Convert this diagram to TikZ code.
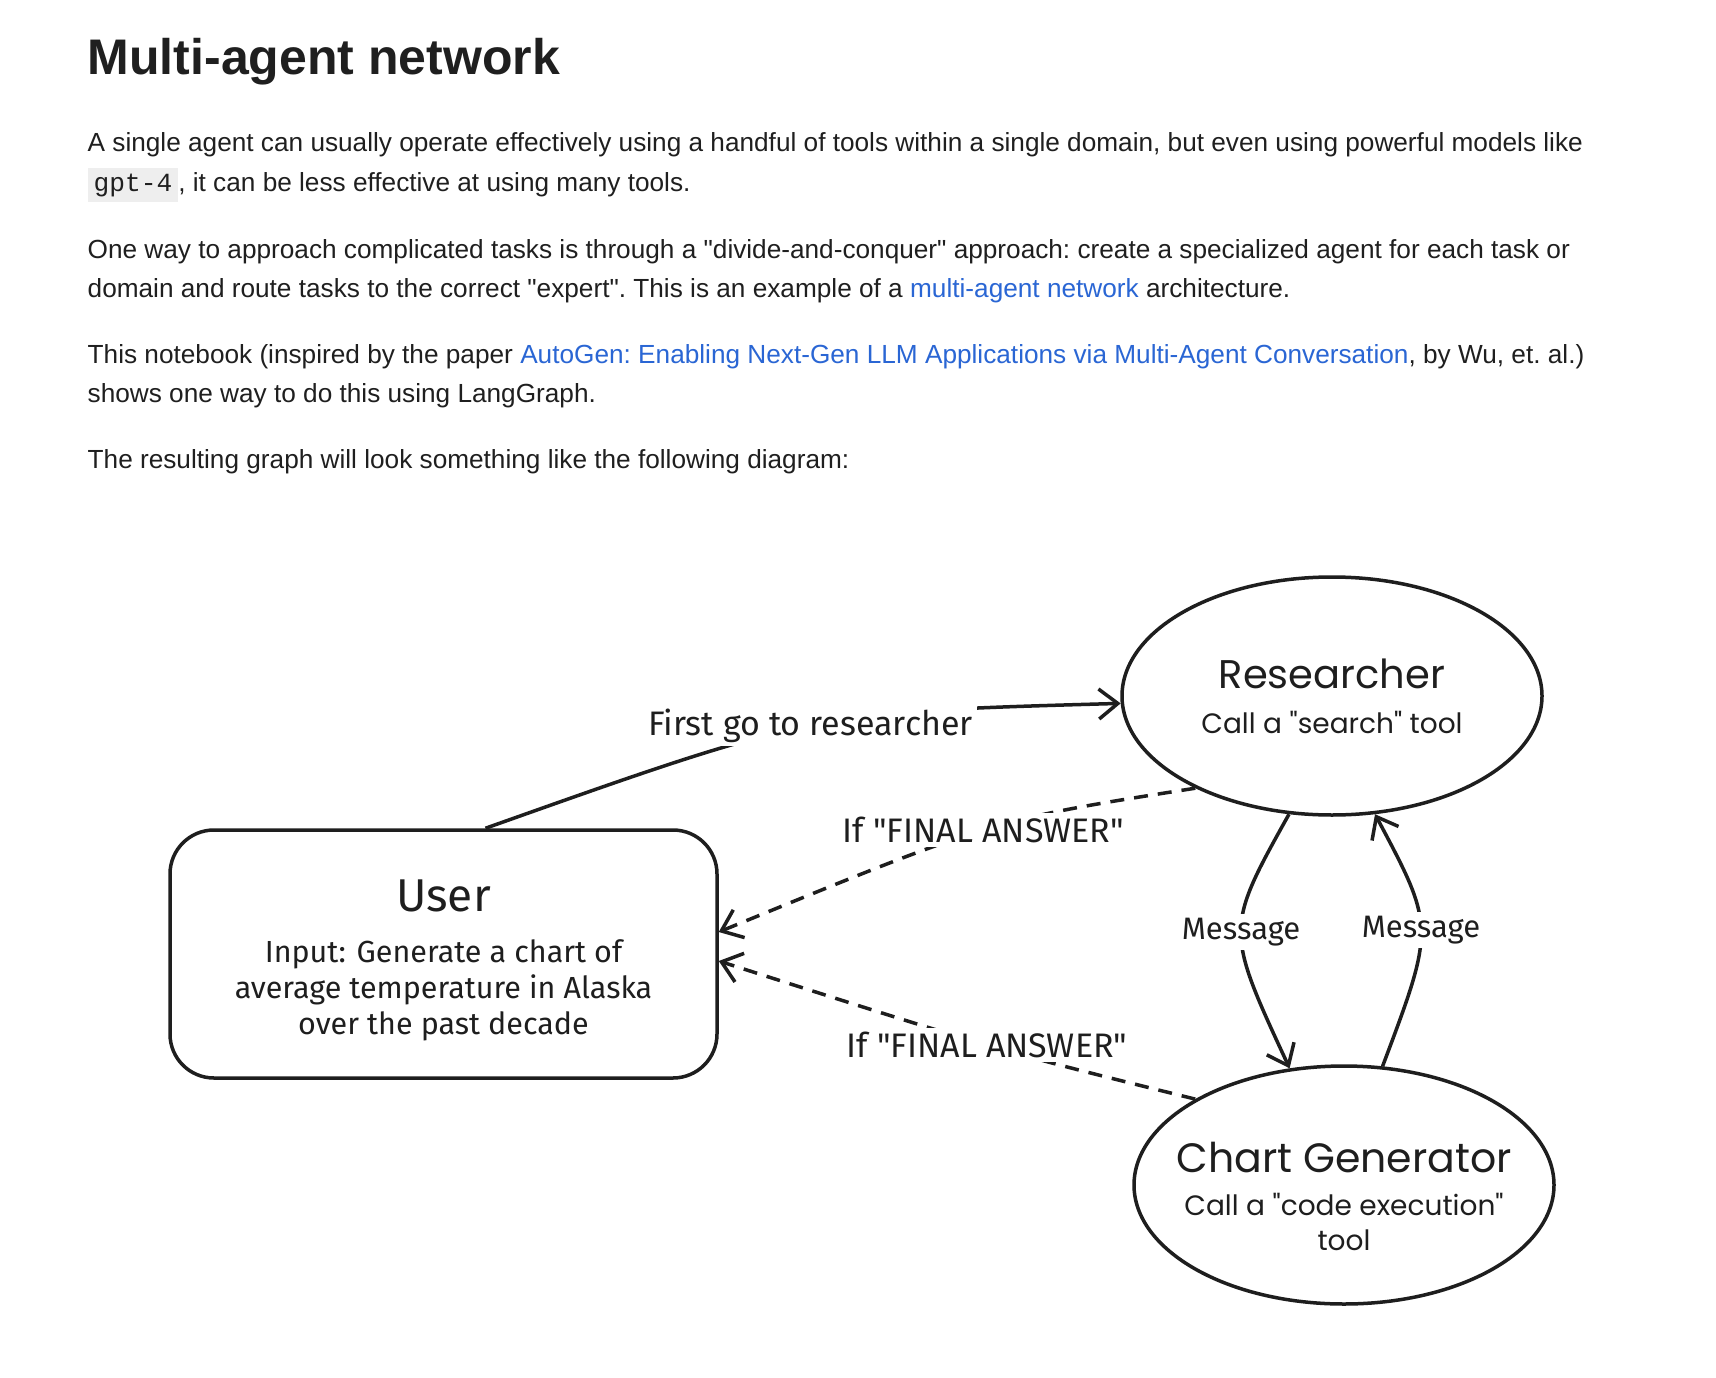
\documentclass[tikz,border=0pt]{standalone}
\usepackage{fontspec}
\setmainfont{Liberation Sans}[Ligatures=TeXOff]
\newfontfamily\codefont{Liberation Mono}
\newfontfamily\sketchfont{Fira Sans}
\newfontfamily\agentfont{Poppins}
\usetikzlibrary{shapes.geometric,arrows.meta}
\definecolor{textgray}{HTML}{1F1F1F}
\definecolor{linkblue}{HTML}{2A66D4}
\definecolor{codebg}{HTML}{EEEEEE}
\definecolor{ink}{HTML}{1E1E1E}

\begin{document}
\begin{tikzpicture}[
    x=1pt, y=-1pt,
    para/.style={anchor=base west, inner sep=0pt, text=textgray, font=\frenchspacing\fontsize{26.2}{30}\selectfont},
    agent/.style={ellipse, draw=ink, line width=3.5pt, minimum width=420pt, minimum height=238pt, inner xsep=-80pt, inner ysep=0pt, align=center, text=ink, font=\agentfont\fontsize{28}{35}\selectfont},
    userbox/.style={rectangle, draw=ink, line width=3.5pt, rounded corners=44pt, minimum width=547pt, minimum height=248pt, align=center, text=ink, font=\sketchfont\fontsize{30.5}{36}\selectfont},
    edgelabel/.style={fill=white, inner sep=4pt, text=ink, font=\sketchfont\fontsize{34}{36}\selectfont},
    arrow/.style={-{Straight Barb[length=19pt,width=30pt]}, line width=3.5pt, draw=ink},
    data/.style={arrow, dash pattern=on 14pt off 10pt}
]

% Fond et cadre
\fill[white] (0,0) rectangle (1716,1378);
\useasboundingbox (0,0) rectangle (1716,1378);

% Titre et texte
\node[anchor=base west, inner sep=0pt, text=textgray, font=\bfseries\fontsize{50}{60}\selectfont] (title) at (87.5,75) {Multi-agent network};
\node[para] (p1a) at (87.5,151) {A single agent can usually operate effectively using a handful of tools within a single domain, but even using powerful models like};
\node[para] (p1b) at (87.5,191) {{\fboxsep=6pt\colorbox{codebg}{\codefont gpt-4}}, it can be less effective at using many tools.};
\node[para] (p2a) at (87.5,258) {One way to approach complicated tasks is through a "divide-and-conquer" approach: create a specialized agent for each task or};
\node[para] (p2b) at (87.5,297) {domain and route tasks to the correct "expert". This is an example of a \textcolor{linkblue}{multi-agent network} architecture.};
\node[para] (p3a) at (87.5,363) {This notebook (inspired by the paper \textcolor{linkblue}{AutoGen: Enabling Next-Gen LLM Applications via Multi-Agent Conversation}, by Wu, et. al.)};
\node[para] (p3b) at (87.5,402) {shows one way to do this using LangGraph.};
\node[para] (p4) at (87.5,468) {The resulting graph will look something like the following diagram:};

% Agents
\node[agent] (researcher) at (1332,696) {{\fontsize{40}{48}\selectfont Researcher}\\[10pt] Call a "search" tool};
\node[agent] (chart) at (1344,1185) {{\fontsize{41}{48}\selectfont\rule{0pt}{54pt}Chart Generator}\\[8pt] Call a "code execution"\\ tool};

% Utilisateur
\node[userbox] (user) at (443.5,954) {{\fontsize{46}{48}\selectfont\rule{0pt}{44pt}User}\\[15pt] Input: Generate a chart of\\ average temperature in Alaska\\ over the past decade};

% Flux
\draw[arrow] ([xshift=42pt]user.north) .. controls (813,712) .. node[edgelabel] {First go to researcher} (researcher.182);
\draw[data] (researcher.214) .. controls (992,820) .. node[edgelabel] {If "FINAL ANSWER"} ([yshift=22pt]user.east);
\draw[data] (chart.150) .. controls (997,1050) .. node[edgelabel] {If "FINAL ANSWER"} ([yshift=-7pt]user.east);

% Messages entre agents
\draw[arrow] (researcher.250) .. controls (1225,929) .. node[edgelabel, font=\sketchfont\fontsize{31}{36}\selectfont] {Message} (chart.115);
\draw[arrow] (chart.72) .. controls (1435,927) .. node[edgelabel, font=\sketchfont\fontsize{31}{36}\selectfont] {Message} (researcher.290);

\end{tikzpicture}
\end{document}
